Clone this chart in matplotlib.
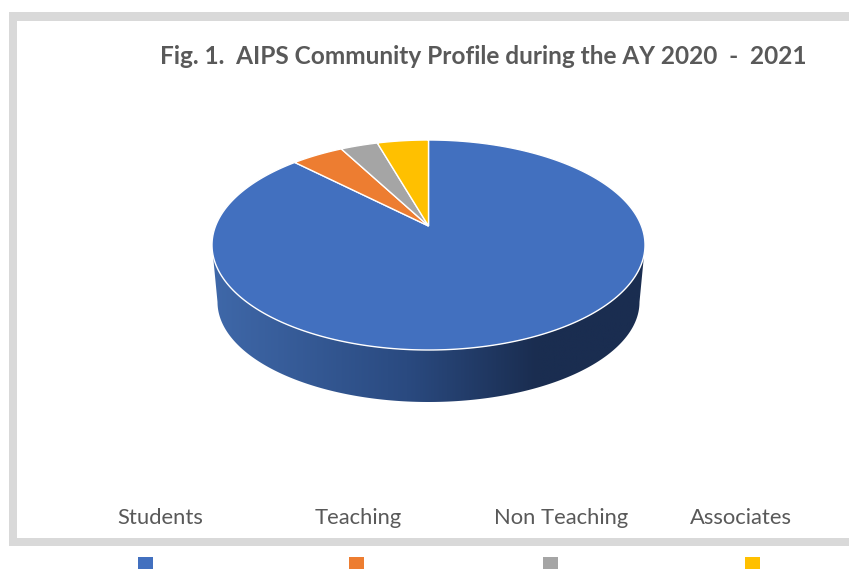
import numpy as np
import matplotlib
matplotlib.use("Agg")
import matplotlib.pyplot as plt
from matplotlib.colors import LinearSegmentedColormap
from matplotlib.patches import Polygon, Rectangle

categories = ["Students", "Teaching", "Non Teaching", "Associates"]
shares = [89.4, 4.0, 2.8, 3.8]
colors = ["#4270BF", "#ED7D31", "#A5A5A5", "#FFC000"]
title = "Fig. 1.  AIPS Community Profile during the AY 2020  -  2021"

label_x = [160.5, 358, 561.5, 741]
marker_x = [145.5, 356.5, 551, 752.5]

# pie geometry in pixels
cx, cy = 428.5, 245
rx, ry = 216.5, 105
apex_y = 226
bottom_rx, bottom_ry, bottom_cy = 211, 100, 302

side_colors = ["#3F68A9", "#2A4A80", "#1A2D50", "#1A2D50"]
side_stops = [0.0, 0.45, 0.75, 1.0]

plt.rcParams["font.family"] = ["Lato", "DejaVu Sans"]

fig = plt.figure(figsize=(8.49, 5.69), dpi=100)
ax = fig.add_axes([0, 0, 1, 1])
ax.set_xlim(0, 849)
ax.set_ylim(569, 0)
ax.axis("off")

# chart frame, open on the right
frame = "#D9D9D9"
ax.add_patch(Rectangle((9, 12), 840, 9, color=frame, lw=0))
ax.add_patch(Rectangle((9, 12), 8, 534, color=frame, lw=0))
ax.add_patch(Rectangle((9, 538), 840, 8, color=frame, lw=0))

ax.text(483.5, 56, title, ha="center", va="center", fontsize=17.55,
        fontweight="bold", color="#595959")


def rim(deg):
    # clockwise from the top of the ellipse
    t = np.radians(deg)
    return cx + rx * np.sin(t), cy - ry * np.cos(t)


# side wall with horizontal shading
t = np.linspace(90, 270, 200)
top_x, top_y = rim(t)
low_x = cx + bottom_rx * np.sin(np.radians(t))
low_y = bottom_cy - bottom_ry * np.cos(np.radians(t))
wall_pts = np.vstack([np.column_stack([top_x, top_y]),
                      np.column_stack([low_x[::-1], low_y[::-1]])])
wall = Polygon(wall_pts, closed=True, fc="none", ec="none")
ax.add_patch(wall)
cmap = LinearSegmentedColormap.from_list("side", list(zip(side_stops, side_colors)))
img = ax.imshow(np.linspace(0, 1, 256)[None, :], cmap=cmap, aspect="auto",
                extent=(cx - rx, cx + rx, 410, 240), zorder=1)
img.set_clip_path(wall)
ax.set_xlim(0, 849)
ax.set_ylim(569, 0)

# top face wedges, starting at twelve o'clock and running clockwise
edges = np.cumsum([0] + shares) * 3.6
for i in range(len(shares)):
    arc = np.linspace(edges[i], edges[i + 1], 300)
    x, y = rim(arc)
    pts = np.vstack([[cx, apex_y], np.column_stack([x, y])])
    ax.add_patch(Polygon(pts, closed=True, fc=colors[i], ec="white", lw=1.0, zorder=2))

for name, lx, mx, col in zip(categories, label_x, marker_x, colors):
    ax.text(lx, 517.5, name, ha="center", va="center", fontsize=15.8, color="#595959")
    ax.add_patch(Rectangle((mx - 7.5, 557), 15, 13, color=col, lw=0))

fig.savefig("out.png", dpi=100)
plt.close(fig)
